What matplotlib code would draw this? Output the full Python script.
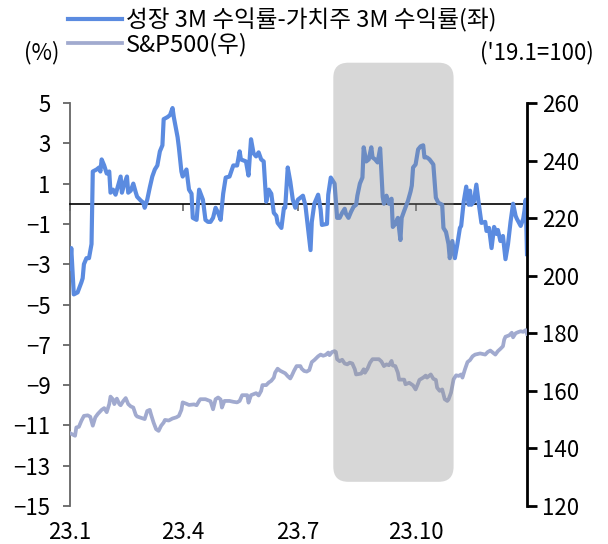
import matplotlib
matplotlib.use('Agg')
import matplotlib.pyplot as plt
from matplotlib.patches import FancyBboxPatch

plt.rcParams['font.family'] = ['Noto Sans CJK KR', 'DejaVu Sans']

# x = days since 2023-01-02
spread_days = [0, 1, 3, 6, 9, 10, 11, 13, 15, 17, 18, 21, 23, 24, 25, 27, 29, 31, 32, 34,
               36, 38, 40, 41, 43, 45, 46, 48, 50, 52, 53, 56, 58, 59, 61, 63, 65, 67, 69, 71,
               73, 74, 77, 79, 81, 82, 85, 86, 88, 89, 92, 94, 96, 97, 100, 102, 105, 107, 109, 111,
               113, 115, 117, 119, 121, 123, 126, 129, 132, 134, 135, 139, 141, 143, 145, 147, 149, 151, 153, 155,
               157, 159, 161, 163, 164, 167, 169, 170, 172, 174, 176, 178, 180, 184, 186, 188, 190, 191, 193, 196,
               198, 199, 203, 204, 206, 209, 211, 213, 215, 217, 218, 220, 222, 224, 226, 227, 229, 231, 232, 234,
               236, 238, 239, 241, 243, 245, 247, 248, 250, 252, 254, 255, 257, 259, 261, 262, 264, 267, 269, 270,
               271, 273, 275, 277, 279, 280, 282, 284, 287, 288, 289, 291, 294, 295, 297, 299, 300, 302, 304, 306,
               308, 309, 311, 313, 315, 316, 317, 319, 321, 323, 325, 328, 329, 331, 333, 335, 337, 338, 340, 342,
               344, 346, 348, 350, 352, 353, 356, 358, 359, 360, 361]
spread_vals = [-3.2, -2.2, -4.5, -4.4, -3.9, -3.7, -3.0, -2.7, -2.7, -2.0, 1.6, 1.7, 1.8, 1.6, 2.2, 1.9, 1.5, 1.6, 0.55, 0.7,
               0.45, 0.9, 1.35, 0.55, 1.0, 1.35, 0.55, 0.65, 1.0, 0.55, 0.35, 0.15, 0.05, -0.2, 0.2, 0.8, 1.35, 1.7, 1.9, 2.6,
               2.9, 4.2, 4.3, 4.4, 4.75, 4.3, 3.3, 2.8, 1.6, 1.35, 1.7, 0.7, 0.5, -0.7, -0.8, 0.7, 0.2, -0.8, -0.9, -0.9,
               -0.7, -0.2, -0.45, -0.8, 0.5, 1.3, 1.35, 1.9, 1.9, 2.6, 2.2, 2.1, 1.4, 3.2, 2.5, 2.35, 2.55, 2.2, 2.1, 0.1,
               0.7, 0.5, -0.45, -0.6, -0.95, -1.2, -0.2, -0.2, 1.8, 1.1, 0.2, -0.2, 0.2, 0.4, -0.1, -1.2, -2.3, -0.9, 0.0, 0.45,
               -0.3, -1.05, -1.0, 0.45, 1.3, 1.0, -0.7, -0.7, -0.45, -0.25, -0.5, -0.7, -0.4, -0.15, -0.05, 0.4, 1.0, 1.3, 2.8, 2.1,
               2.2, 2.8, 2.3, 2.2, 2.05, 2.75, 0.35, 0.0, 0.4, 0.0, 0.25, -1.15, -1.0, -0.7, -1.8, -0.7, -0.35, 0.15, 0.6, 0.9,
               1.8, 1.95, 2.7, 2.85, 2.9, 2.3, 2.3, 2.2, 1.95, 1.1, 0.3, 0.05, -0.05, -1.2, -1.4, -2.0, -2.7, -1.85, -2.7, -2.0,
               -1.2, -1.1, 0.1, 0.85, -0.05, 0.65, -0.05, 0.1, 0.95, -0.05, -0.95, -0.9, -1.35, -1.2, -2.2, -1.15, -1.5, -1.3, -1.85, -1.6,
               -2.75, -2.0, -0.9, 0.0, -0.6, -0.75, -1.1, -0.75, -0.35, 0.2, -2.5]

spx_days = [0, 4, 5, 7, 9, 11, 14, 16, 18, 20, 22, 25, 27, 29, 31, 32, 34, 35, 37, 39,
            40, 42, 44, 46, 48, 50, 52, 53, 55, 59, 61, 63, 64, 66, 68, 70, 72, 74, 75, 78,
            81, 84, 86, 88, 89, 92, 94, 98, 100, 102, 103, 107, 111, 113, 115, 117, 119, 120, 122, 126,
            129, 132, 134, 136, 140, 141, 143, 147, 149, 151, 152, 155, 157, 159, 161, 162, 164, 166, 170, 172,
            174, 175, 177, 179, 182, 183, 185, 187, 189, 191, 193, 196, 198, 200, 202, 204, 205, 207, 209, 210,
            211, 213, 215, 217, 219, 221, 223, 225, 226, 230, 232, 233, 235, 237, 239, 244, 246, 248, 250, 252,
            254, 255, 257, 259, 260, 264, 265, 268, 271, 273, 275, 276, 279, 281, 282, 285, 287, 289, 290, 292,
            294, 296, 298, 299, 301, 303, 305, 307, 309, 310, 312, 314, 316, 318, 320, 324, 328, 330, 332, 334,
            336, 338, 340, 342, 343, 344, 347, 349, 350, 352, 354, 356, 358, 360, 361]
spx_vals = [145.3, 144.4, 147.3, 147.5, 149.6, 151.3, 151.5, 151.0, 147.9, 150.8, 152.0, 153.4, 154.0, 152.6, 155.4, 158.0, 157.0, 155.4, 157.3, 155.4,
            155.0, 156.4, 157.5, 155.4, 154.6, 154.2, 151.6, 151.1, 150.8, 150.2, 153.0, 153.4, 151.8, 149.0, 146.7, 146.1, 147.9, 149.0, 149.9, 149.7,
            150.4, 150.8, 151.3, 153.4, 156.0, 155.5, 155.1, 155.3, 155.0, 156.5, 157.1, 157.1, 156.4, 153.6, 157.1, 157.7, 157.0, 154.2, 156.5, 156.5,
            156.2, 156.0, 156.5, 158.5, 158.5, 155.9, 158.5, 159.2, 158.4, 160.0, 162.0, 162.0, 162.9, 163.5, 164.6, 166.3, 167.7, 167.0, 166.1, 165.1,
            164.3, 165.1, 167.0, 168.6, 168.6, 167.7, 166.9, 166.7, 167.2, 170.0, 170.7, 172.0, 172.6, 172.2, 172.5, 173.3, 172.4, 173.5, 173.8, 173.5,
            171.0, 170.3, 170.8, 169.5, 169.2, 169.8, 169.5, 167.5, 165.7, 166.0, 167.5, 166.3, 167.7, 169.8, 171.0, 171.0, 170.2, 168.6, 169.2, 168.9,
            170.4, 168.8, 168.6, 166.3, 163.9, 163.9, 162.3, 162.8, 161.9, 160.5, 162.6, 163.8, 164.6, 165.3, 164.6, 165.7, 164.2, 163.8, 161.1, 160.0,
            160.5, 157.1, 156.5, 157.0, 159.4, 164.0, 165.4, 165.2, 165.7, 164.6, 167.5, 170.0, 170.7, 172.0, 172.6, 173.0, 172.6, 173.5, 174.0, 173.3,
            172.6, 173.8, 174.6, 175.5, 177.8, 178.8, 179.3, 180.2, 178.6, 180.0, 180.4, 180.7, 180.5, 181.1, 179.8]

quarter_days = [0, 89, 180, 273]
quarter_labels = ['23.1', '23.4', '23.7', '23.10']
left_ticks = list(range(-15, 6, 2))
right_ticks = list(range(120, 261, 20))
shade_start, shade_end = 208, 303
shade_top, shade_bottom = 7.0, -13.8

blue = '#5B8BE0'
grey = '#A1AACF'
FS = 16

W, H = 608, 544
fig = plt.figure(figsize=(W / 100, H / 100), dpi=100)
ax_l, ax_b, ax_w, ax_h = 70, 506, 457, 403
ax = fig.add_axes([ax_l / W, 1 - ax_b / H, ax_w / W, ax_h / H])
ax2 = ax.twinx()

l1, = ax.plot(spread_days, spread_vals, color=blue, lw=3.0, solid_joinstyle='round',
              label='성장 3M 수익률-가치주 3M 수익률(좌)', zorder=3)
l2, = ax2.plot(spx_days, spx_vals, color=grey, lw=2.7, solid_joinstyle='round',
               label='S&P500(우)', zorder=3)

ax.set_xlim(0, 361)
ax.set_ylim(-15, 5)
ax2.set_ylim(120, 260)

# zero line with quarter ticks
ax.spines['bottom'].set_position(('data', 0))
ax.spines['bottom'].set_color('black')
ax.spines['bottom'].set_linewidth(1.2)
ax.spines['top'].set_visible(False)
ax.spines['right'].set_visible(False)
ax.spines['left'].set_color('#666666')
ax.spines['left'].set_linewidth(1.3)
ax.set_xticks(quarter_days)
ax.tick_params(axis='x', labelbottom=False, length=5, width=1.2, color='#666666', direction='out')
ax.set_yticks(left_ticks)
ax.tick_params(axis='y', length=5, width=1.3, color='#666666', labelsize=FS, pad=9)

sec = ax.secondary_xaxis('bottom')
sec.set_xticks(quarter_days, quarter_labels)
sec.tick_params(length=0, pad=11, labelsize=FS)
sec.spines['bottom'].set_visible(False)

for s in ['top', 'bottom', 'left']:
    ax2.spines[s].set_visible(False)
ax2.spines['right'].set_color('black')
ax2.spines['right'].set_linewidth(2)
ax2.set_yticks(right_ticks)
ax2.tick_params(axis='y', length=7, width=2, color='black', labelsize=FS, pad=4)

# shaded rounded box
x_per_px = 361 / ax_w
y_per_px = 20 / ax_h
r_px = 15
box = FancyBboxPatch((shade_start, shade_bottom), shade_end - shade_start, shade_top - shade_bottom,
                     boxstyle=f'round,pad=0,rounding_size={r_px * x_per_px}',
                     mutation_aspect=y_per_px / x_per_px,
                     transform=ax.transData, facecolor='#8E8E8E', edgecolor='none',
                     alpha=0.35, clip_on=False, zorder=10)
ax2.add_patch(box)

fig.legend(handles=[l1, l2], loc='upper left', bbox_to_anchor=(68 / W, 1 - 8 / H),
           frameon=False, fontsize=17, handlelength=2.3, handletextpad=0.15,
           labelspacing=0.0, borderpad=0, borderaxespad=0)
fig.text(42 / W, 1 - 53 / H, '(%)', ha='center', va='center', fontsize=FS)
fig.text(537 / W, 1 - 53 / H, "('19.1=100)", ha='center', va='center', fontsize=FS)

fig.savefig('out.png', dpi=100)
